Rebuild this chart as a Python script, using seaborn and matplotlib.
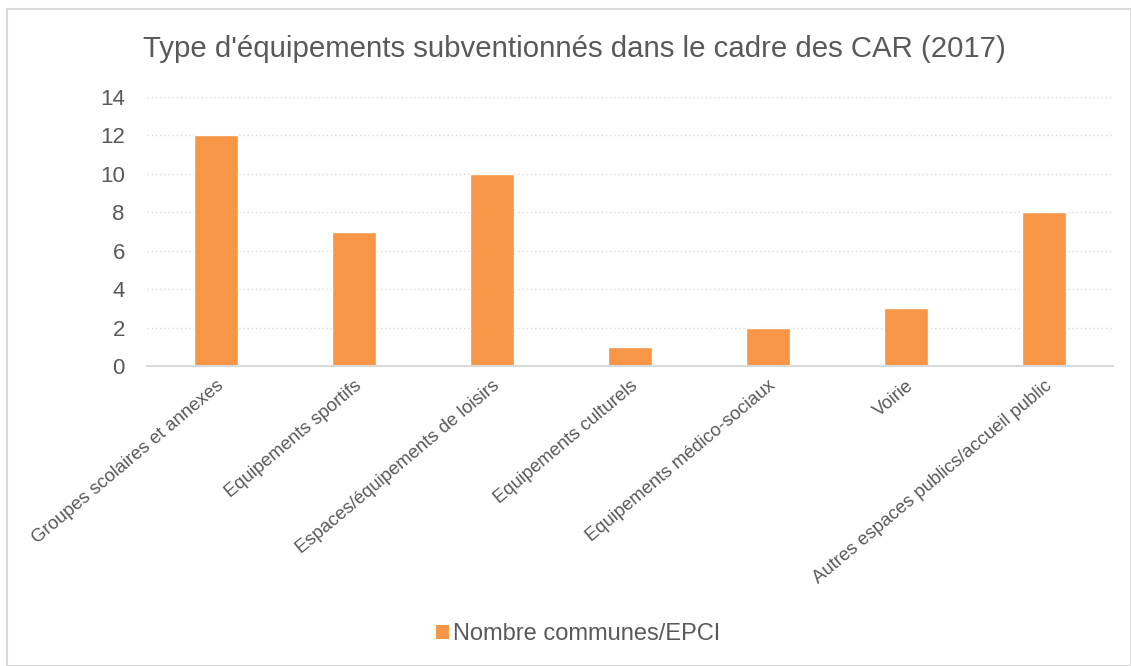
import matplotlib
matplotlib.use("Agg")
import matplotlib.pyplot as plt
import seaborn as sns
import pandas as pd
from matplotlib.patches import Rectangle, Patch

categories = [
    "Groupes scolaires et annexes",
    "Equipements sportifs",
    "Espaces/équipements de loisirs",
    "Equipements culturels",
    "Equipements médico-sociaux",
    "Voirie",
    "Autres espaces publics/accueil public",
]
values = [12, 7, 10, 1, 2, 3, 8]
series_name = "Nombre communes/EPCI"
title = "Type d'équipements subventionnés dans le cadre des CAR (2017)"
y_ticks = [0, 2, 4, 6, 8, 10, 12, 14]

ORANGE = "#F79646"
TEXT = "#595959"
GRID = "#D9D9D9"

sns.set_theme(style="white")
plt.rcParams["font.family"] = ["Liberation Sans", "DejaVu Sans"]

df = pd.DataFrame({"cat": categories, "val": values})

fig = plt.figure(figsize=(11.31, 6.66), dpi=100)
W, H = 1131, 666
ax = fig.add_axes([147 / W, 1 - 366 / H, (1113 - 147) / W, (366 - 97) / H])

sns.barplot(data=df, x="cat", y="val", color=ORANGE, width=0.32,
            saturation=1, ax=ax, zorder=3)

ax.set_ylim(0, 14)
ax.set_xlim(-0.5, len(categories) - 0.5)
ax.set_yticks(y_ticks)
ax.set_yticklabels([str(t) for t in y_ticks], fontsize=16, color=TEXT)
ax.set_xlabel("")
ax.set_ylabel("")
ax.set_xticks(range(len(categories)))
ax.set_xticklabels(categories, rotation=40, ha="right", rotation_mode="anchor",
                   fontsize=13.3, color=TEXT)
ax.tick_params(axis="both", length=0)
ax.tick_params(axis="y", pad=16)
ax.tick_params(axis="x", pad=8)

for t in y_ticks[1:]:
    ax.axhline(t, color=GRID, lw=1, ls=(0, (1, 2)), zorder=1)
for side in ["top", "right", "left"]:
    ax.spines[side].set_visible(False)
ax.spines["bottom"].set_color(GRID)
ax.spines["bottom"].set_linewidth(1.5)
ax.spines["bottom"].set_zorder(4)

fig.text(143 / W, 1 - 49 / H, title, fontsize=21.2, color=TEXT,
         ha="left", va="center")

handle = Patch(facecolor=ORANGE, edgecolor="none")
fig.legend([handle], [series_name], loc="center", bbox_to_anchor=(0.511, 1 - 634 / H),
           frameon=False, fontsize=17, labelcolor=TEXT, handlelength=0.55,
           handleheight=0.55, handletextpad=0.15)

fig.patches.append(Rectangle((7 / W, 0), 1 - 7 / W, 1 - 9 / H, transform=fig.transFigure,
                             fill=False, edgecolor=GRID, lw=1.5))

fig.savefig("out.png", dpi=100)
